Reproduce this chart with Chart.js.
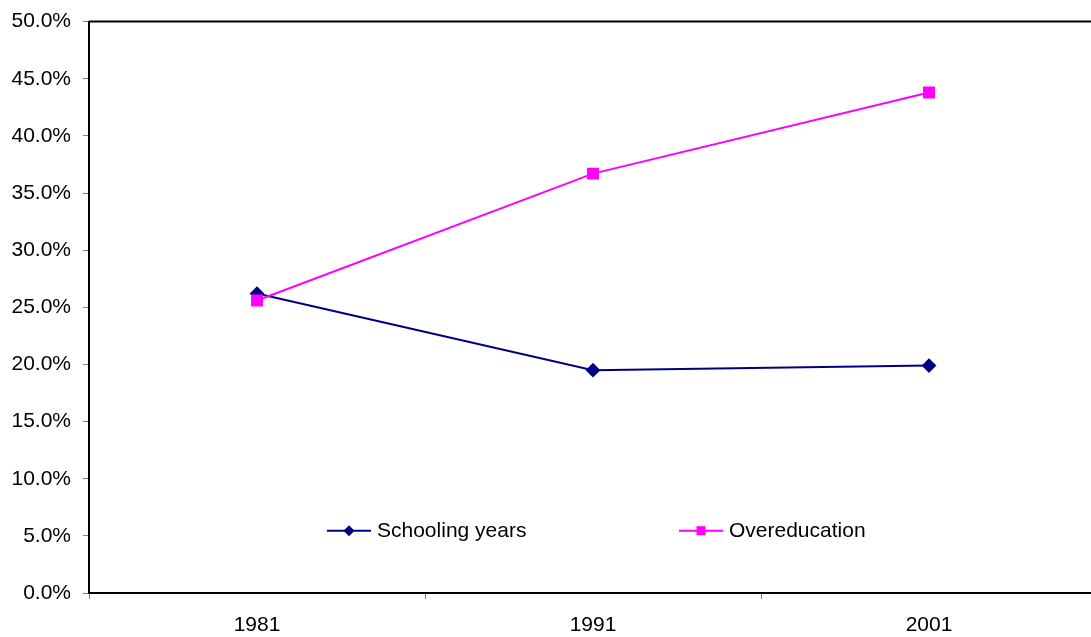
<!DOCTYPE html>
<html>
<head>
<meta charset="utf-8">
<script src="https://cdn.jsdelivr.net/npm/chart.js@4.4.0/dist/chart.umd.min.js"></script>
<style>
  html, body { margin: 0; padding: 0; background: #fff; overflow: hidden; }
  canvas { display: block; margin-top: -3px; }
</style>
</head>
<body>
<canvas id="c" width="1097" height="640" style="width:1097px;height:640px"></canvas>
<script>
const categories = ['1981', '1991', '2001'];
const schoolingYears = [26.2, 19.5, 19.9];
const overeducation = [25.6, 36.7, 43.8];
const seriesNames = ['Schooling years', 'Overeducation'];
const yTickMin = 0, yTickMax = 50, yTickStep = 5;

const FONT = '"Liberation Sans", Arial, sans-serif';
const FSIZE = 21;

const framePlugin = {
  id: 'frame',
  afterDraw(chart) {
    const { ctx, chartArea: a } = chart;
    ctx.save();
    ctx.strokeStyle = '#000';
    ctx.lineWidth = 2;
    ctx.beginPath();
    ctx.moveTo(a.left, a.top);
    ctx.lineTo(a.right, a.top);
    ctx.stroke();
    ctx.restore();
  }
};

const legendPlugin = {
  id: 'customLegend',
  afterDraw(chart) {
    const { ctx, chartArea: a } = chart;
    const y = a.top + (a.bottom - a.top) * 0.891;
    const starts = [a.left + 238, a.left + 590];
    ctx.save();
    chart.data.datasets.forEach((ds, i) => {
      const x0 = starts[i];
      ctx.strokeStyle = ds.borderColor;
      ctx.lineWidth = 2;
      ctx.beginPath();
      ctx.moveTo(x0, y);
      ctx.lineTo(x0 + 44, y);
      ctx.stroke();
      ctx.fillStyle = ds.pointBackgroundColor;
      const cx = x0 + 22;
      ctx.beginPath();
      if (ds.pointStyle === 'rectRot') {
        const r = 5.5;
        ctx.moveTo(cx, y - r); ctx.lineTo(cx + r, y); ctx.lineTo(cx, y + r); ctx.lineTo(cx - r, y);
        ctx.closePath();
      } else {
        ctx.rect(cx - 4.5, y - 4.5, 9, 9);
      }
      ctx.fill();
      ctx.fillStyle = '#000';
      ctx.font = FSIZE + 'px ' + FONT;
      ctx.textBaseline = 'middle';
      ctx.textAlign = 'left';
      ctx.fillText(ds.label, x0 + 50, y);
    });
    ctx.restore();
  }
};

new Chart(document.getElementById('c'), {
  type: 'line',
  data: {
    labels: categories,
    datasets: [
      {
        label: seriesNames[0],
        data: schoolingYears,
        borderColor: '#000080',
        backgroundColor: '#000080',
        pointBackgroundColor: '#000080',
        pointBorderColor: '#000080',
        pointStyle: 'rectRot',
        pointRadius: 6,
        borderWidth: 2,
        tension: 0,
        order: 1
      },
      {
        label: seriesNames[1],
        data: overeducation,
        borderColor: '#FF00FF',
        backgroundColor: '#FF00FF',
        pointBackgroundColor: '#FF00FF',
        pointBorderColor: '#FF00FF',
        pointStyle: 'rect',
        pointRadius: 7,
        borderWidth: 2,
        tension: 0,
        order: 0
      }
    ]
  },
  options: {
    responsive: false,
    animation: false,
    events: [],
    layout: { autoPadding: false, padding: { top: 17, right: 0, left: 0, bottom: 0 } },
    plugins: { legend: { display: false }, tooltip: { enabled: false } },
    scales: {
      x: {
        type: 'category',
        offset: true,
        grid: { display: true, drawOnChartArea: false, offset: true, tickLength: 6, color: '#808080', tickWidth: 1 },
        border: { display: true, color: '#000', width: 2 },
        ticks: { color: '#000', font: { family: FONT, size: FSIZE }, padding: 14, maxRotation: 0 },
        afterFit(s) { s.height = 44; }
      },
      y: {
        min: yTickMin,
        max: yTickMax,
        grid: { display: true, drawOnChartArea: false, tickLength: 6, color: '#808080', tickWidth: 1 },
        border: { display: true, color: '#000', width: 2 },
        ticks: {
          stepSize: yTickStep,
          color: '#000',
          font: { family: FONT, size: FSIZE },
          padding: 12,
          callback: v => v.toFixed(1) + '%'
        },
        afterFit(s) { s.width = 89; }
      }
    }
  },
  plugins: [framePlugin, legendPlugin]
});
</script>
</body>
</html>
